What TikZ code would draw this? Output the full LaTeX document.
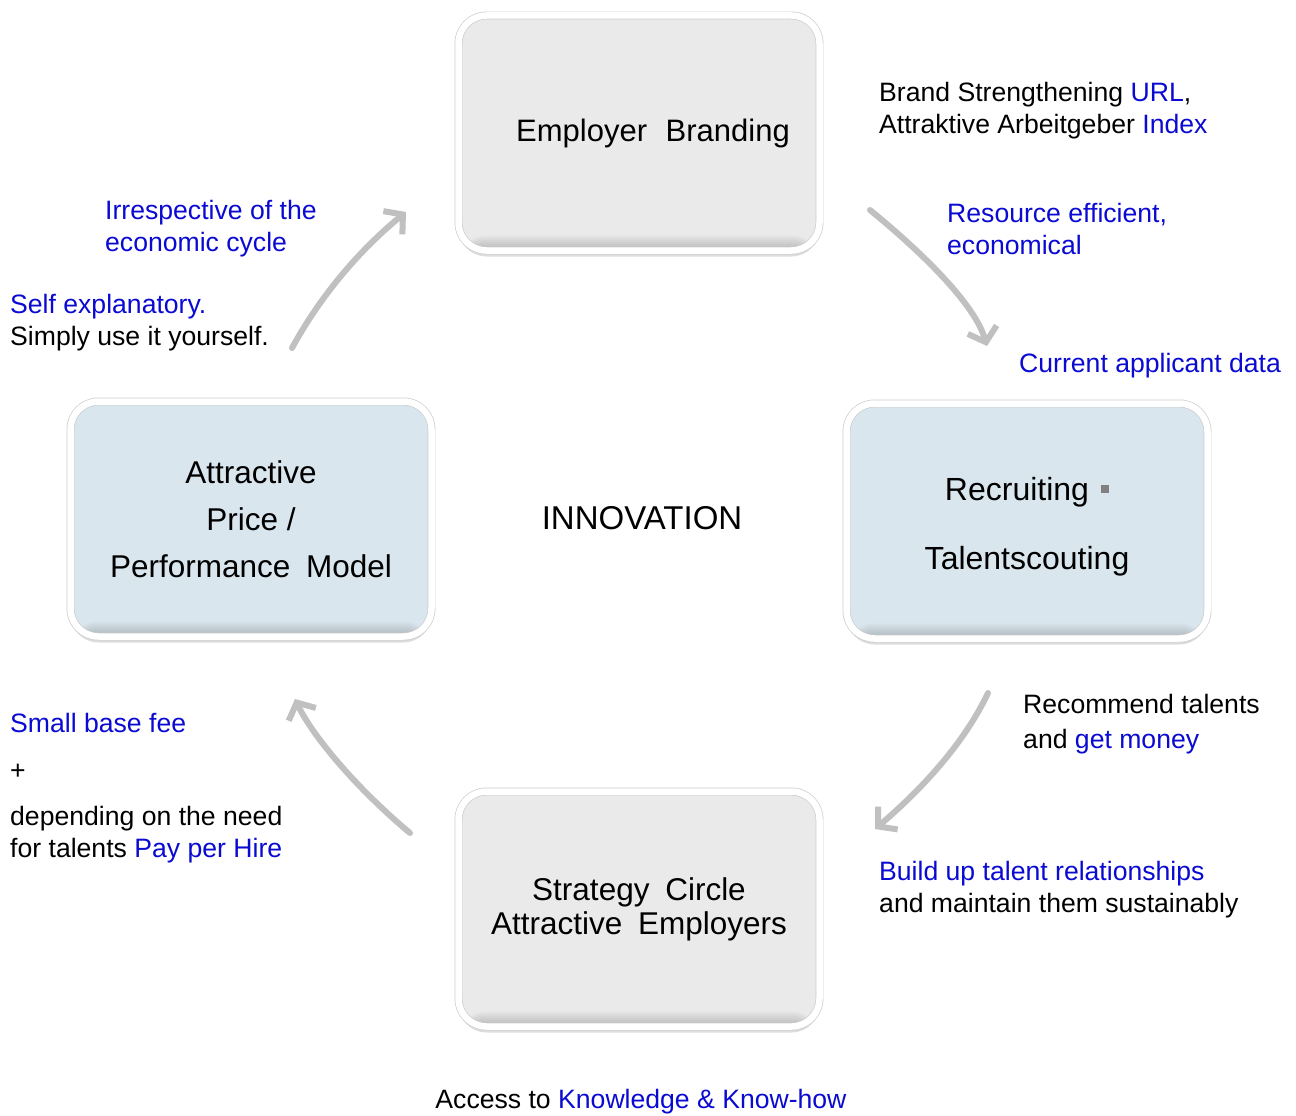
\documentclass[tikz,border=0pt]{standalone}
\usepackage{fontspec}
\setmainfont{Liberation Sans}
\usetikzlibrary{arrows.meta,shadows}
\definecolor{boxgray}{RGB}{234,234,234}
\definecolor{boxblue}{RGB}{218,230,238}
\definecolor{arrgray}{RGB}{192,192,192}
\definecolor{lblue}{RGB}{10,10,210}
\definecolor{sqgray}{RGB}{128,128,128}
\newcommand{\bl}[1]{\textcolor{lblue}{#1}}
\begin{document}
\begin{tikzpicture}[x=1pt,y=-1pt,
  glassbox/.style={rectangle, rounded corners=28pt, minimum width=361pt, minimum height=235pt,
    inner sep=0pt, fill=#1, draw=black!20, line width=0.7pt, double=white, double distance=6.5pt,
    drop shadow={shadow xshift=0pt, shadow yshift=-6pt, opacity=0.22, fill=black!60},
    path picture={\foreach \h in {3,5,...,15}{\fill[black, opacity=0.028]
      ([yshift=\h pt]path picture bounding box.south west) rectangle (path picture bounding box.south east);}},
    font=\fontsize{31}{38}\selectfont, align=center, text=black},
  cyc/.style={draw=arrgray, line width=6pt, line cap=round,
    -{Straight Barb[length=13pt, width=30pt, line width=6pt]}},
  lbl/.style={inner sep=0pt, anchor=west, align=left, font=\fontsize{26.6}{32}\selectfont, text=black}
]
\useasboundingbox[fill=white] (0,0) rectangle (1296,1116);

% boxes
\node[glassbox=boxgray] (eb) at (639,133) {\hspace*{28pt}Employer\hspace{0.6em}Branding};
\node[glassbox=boxblue, font=\fontsize{32}{69}\selectfont] (rt) at (1027,521)
  {\rule{0pt}{34pt}Recruiting\hspace{12pt}\textcolor{sqgray}{\raisebox{7pt}{\rule{8pt}{8pt}}}\\Talentscouting};
\node[glassbox=boxblue, font=\fontsize{31.5}{47}\selectfont] (ap) at (251,519)
  {Attractive\\Price /\\Performance\hspace{0.5em}Model};
\node[glassbox=boxgray, font=\fontsize{31.5}{34}\selectfont] (sc) at (639,909)
  {Strategy\hspace{0.5em}Circle\\Attractive\hspace{0.5em}Employers};

% centre
\node[inner sep=0pt, font=\fontsize{33}{38}\selectfont] (inn) at (642,518) {INNOVATION};

% cycle arrows
\coordinate (a1s) at (870,210); \coordinate (a1e) at (987,346);
\coordinate (a2s) at (988,693); \coordinate (a2e) at (875,829);
\coordinate (a3s) at (410,833); \coordinate (a3e) at (295,699);
\coordinate (a4s) at (292,348); \coordinate (a4e) at (406,212);
\draw[cyc] (a1s) .. controls (925,255) and (975,305) .. (a1e);
\draw[cyc] (a2s) .. controls (962,748) and (915,795) .. (a2e);
\draw[cyc] (a3s) .. controls (355,787) and (312,735) .. (a3e);
\draw[cyc] (a4s) .. controls (322,293) and (362,248) .. (a4e);

% labels
\node[lbl] (t1) at (879,111) {Brand Strengthening \bl{URL},\\Attraktive Arbeitgeber \bl{Index}};
\node[lbl, text=lblue] (t2) at (947,229) {Resource efficient,\\economical};
\node[lbl, text=lblue] (t3) at (1019,366) {Current applicant data};
\node[lbl, text=lblue] (t4) at (105,229) {Irrespective of the\\economic cycle};
\node[lbl] (t5) at (10,323) {\bl{Self explanatory.}\\Simply use it yourself.};
\node[lbl, font=\fontsize{26.6}{35}\selectfont] (t6) at (1023,724) {Recommend talents\\and \bl{get money}};
\node[lbl, text=lblue] (t7) at (10,723) {Small base fee};
\node[lbl] (t8) at (10,772) {+};
\node[lbl] (t9) at (10,835) {depending on the need\\for talents \bl{Pay per Hire}};
\node[lbl] (t10) at (879,890) {\bl{Build up talent relationships}\\and maintain them sustainably};
\node[lbl, anchor=center] (t11) at (641,1102) {Access to \bl{Knowledge \& Know-how}};
\end{tikzpicture}
\end{document}
